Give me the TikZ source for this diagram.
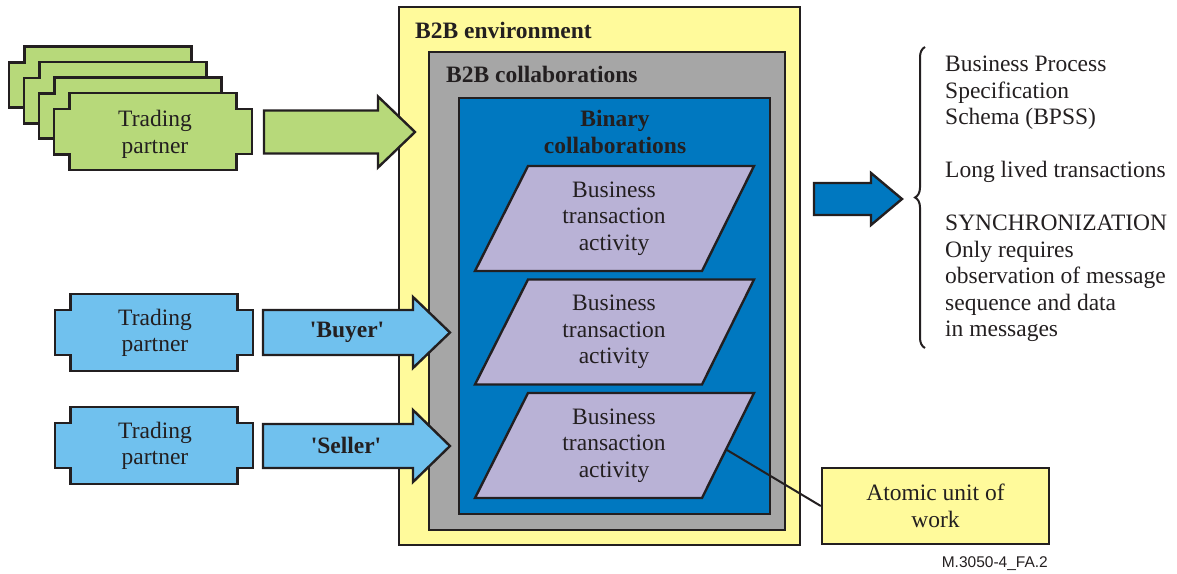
\documentclass[tikz,border=0pt]{standalone}
\usepackage{fontspec}
\setmainfont{Liberation Serif}[Ligatures=TeXOff]
\newfontfamily\labelsans{Liberation Sans}
\usetikzlibrary{decorations.pathreplacing}
\definecolor{envyellow}{RGB}{255,250,155}
\definecolor{collgray}{RGB}{166,166,166}
\definecolor{binblue}{RGB}{0,120,192}
\definecolor{btalav}{RGB}{185,178,214}
\definecolor{tpgreen}{RGB}{183,217,122}
\definecolor{tpblue}{RGB}{112,193,238}
\definecolor{inkline}{RGB}{35,31,32}
\tikzset{
  outl/.style={draw=inkline, line width=2.4pt, line join=miter},
  boxnode/.style={outl, rectangle, inner sep=0pt},
  txt/.style={inner sep=0pt, align=center, text=inkline, font=\fontsize{23.5}{26.5}\selectfont},
  btxt/.style={txt, font=\fontsize{23.5}{26.5}\selectfont\bfseries},
}
\newcommand\tpshape[3]{%
  \begin{scope}[shift={(#1,#2)}]
    \draw[outl, fill=#3] (-99,-22.5) -- (-83.5,-22.5) -- (-83.5,-38.5) -- (83.5,-38.5) -- (83.5,-22.5) -- (99,-22.5) -- (99,22.5) -- (83.5,22.5) -- (83.5,38.5) -- (-83.5,38.5) -- (-83.5,22.5) -- (-99,22.5) -- cycle;
  \end{scope}}
% #1 x start, #2 x tip, #3 y centre, #4 shaft half, #5 head half, #6 head length, #7 fill
\newcommand\fatarrow[7]{%
  \begin{scope}[shift={(0,#3)}]
    \draw[outl, fill=#7] (#1,-#4) -- ({#2-#6},-#4) -- ({#2-#6},-#5) -- (#2,0) -- ({#2-#6},#5) -- ({#2-#6},#4) -- (#1,#4) -- cycle;
  \end{scope}}
\newcommand\btashape[1]{%
  \begin{scope}[shift={(0,#1)}]
    \draw[outl, fill=btalav] (528,0) -- (754,0) -- (702,105) -- (475,105) -- cycle;
  \end{scope}}
\begin{document}
\begin{tikzpicture}[x=1pt, y=-1pt]
\useasboundingbox (0,0) rectangle (1177,573);

% containers
\node[boxnode, fill=envyellow, minimum width=401, minimum height=538] (env) at (599.5,276) {};
\node[boxnode, fill=collgray, minimum width=356, minimum height=478] (coll) at (607,291) {};
\node[boxnode, fill=binblue, minimum width=311, minimum height=416] (bin) at (614.5,306) {};
\node[btxt, anchor=base west] (envlabel) at (415,38) {B2B environment};
\node[btxt, anchor=base west] (colllabel) at (446,82) {B2B collaborations};
\node[btxt] (binlabel) at (615,132) {Binary\\collaborations};

% business transaction activities
\btashape{166}
\node[txt] (bta1) at (614,218.5) {Business\\transaction\\activity};
\btashape{279.5}
\node[txt] (bta2) at (614,332) {Business\\transaction\\activity};
\btashape{393}
\node[txt] (bta3) at (614,445.5) {Business\\transaction\\activity};

% trading partners (green stack)
\tpshape{108}{85}{tpgreen}
\tpshape{123}{100.5}{tpgreen}
\tpshape{138}{116}{tpgreen}
\tpshape{153}{131.5}{tpgreen}
\node[txt] (tpg) at (155,134.5) {Trading\\partner};

% trading partners (blue)
\tpshape{154}{332.5}{tpblue}
\node[txt] (tpbuyer) at (155,333) {Trading\\partner};
\tpshape{154}{445.5}{tpblue}
\node[txt] (tpseller) at (155,446) {Trading\\partner};

% arrows
\fatarrow{264}{415}{132}{21.5}{35.5}{37}{tpgreen}
\fatarrow{263}{450}{332.5}{22.5}{35.5}{37}{tpblue}
\node[btxt, anchor=base] (buyer) at (347,337) {'Buyer'};
\fatarrow{263}{450}{446}{22}{36}{37}{tpblue}
\node[btxt, anchor=base] (seller) at (346,453) {'Seller'};
\fatarrow{814}{902}{199}{16}{26}{31}{binblue}

% brace and notes
\coordinate (bracebot) at (925,348);
\coordinate (bracetop) at (925,47);
\draw[inkline, line width=2pt, decorate, decoration={brace, amplitude=10pt}] (bracebot) -- (bracetop);
\node[txt, align=left, anchor=west] (notes) at (945,199) {Business Process\\Specification\\Schema (BPSS)\\[26.5pt]Long lived transactions\\[26.5pt]SYNCHRONIZATION\\Only requires\\observation of message\\sequence and data\\in messages};

% atomic unit of work
\node[boxnode, fill=envyellow, minimum width=227, minimum height=76, txt, draw=inkline, line width=2.4pt] (atomic) at (935.5,506) {Atomic unit of\\work};
\coordinate (leader) at (727,450);
\draw[inkline, line width=2pt] (leader) -- (atomic.west);

\node[inner sep=0pt, anchor=base east, text=inkline, font=\labelsans\fontsize{15.5}{18}\selectfont] (figid) at (1048,567) {M.3050-4\_FA.2};
\end{tikzpicture}
\end{document}
